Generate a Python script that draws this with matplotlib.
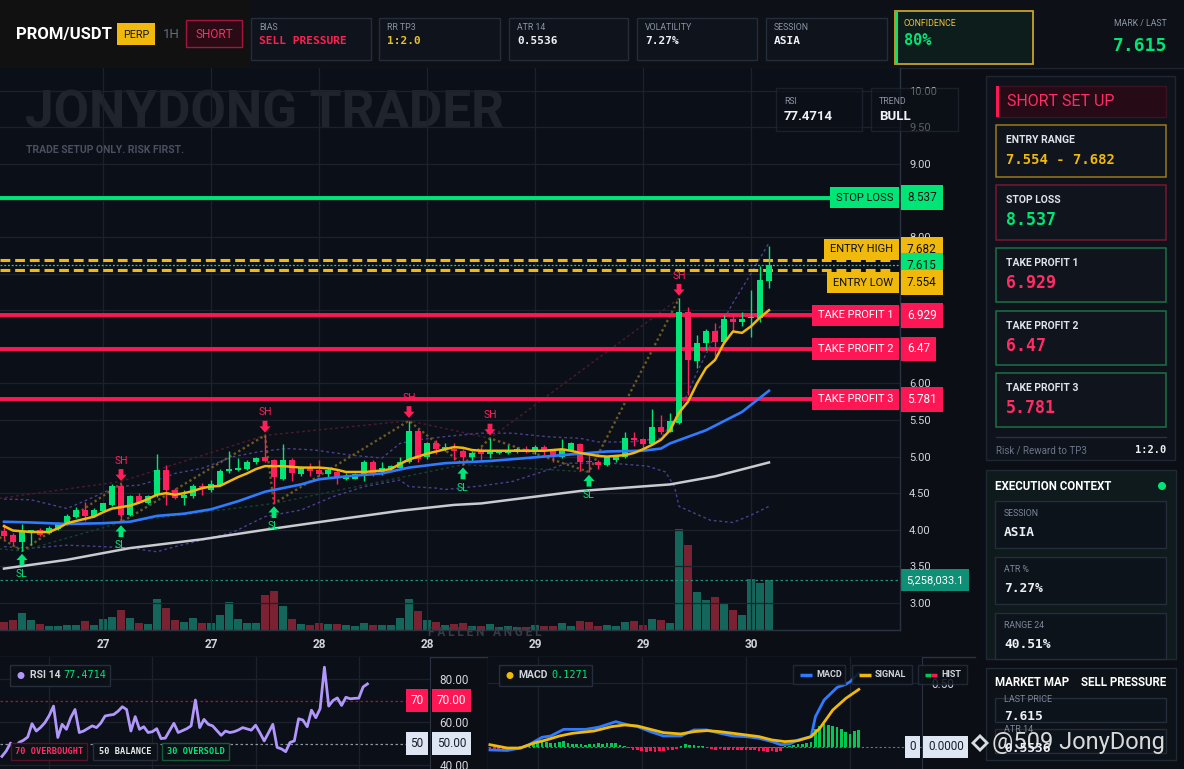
import numpy as np
import matplotlib
matplotlib.use("Agg")
import matplotlib.pyplot as plt
from matplotlib.patches import Rectangle, Circle
import matplotlib.transforms as mtrans

plt.rcParams['font.family'] = ['Roboto', 'DejaVu Sans']
MONO = 'DejaVu Sans Mono'

# ---------------- DATA ----------------
symbol = "PROM/USDT"
contract = "PERP"
timeframe = "1H"
side = "SHORT"
bias = "SELL PRESSURE"
rr_tp3 = "1:2.0"
atr14 = "0.5536"
volatility = "7.27%"
session = "ASIA"
confidence = "80%"
range24 = "40.51%"
rsi_last = "77.4714"
macd_last = "0.1271"
trend = "BULL"

stop_loss = 8.537
entry_high = 7.682
entry_low = 7.554
last_price = 7.615
tp1, tp2, tp3 = 6.929, 6.47, 5.781
last_volume = 5258033.1

date_labels = ["27", "27", "28", "28", "29", "29", "30"]
date_ticks = [11, 23, 35, 47, 59, 71, 83]
pane_ticks = [11, 35, 59, 83]
price_ticks = [3.0, 3.5, 4.0, 4.5, 5.0, 5.5, 6.0, 6.5, 7.0, 7.5, 8.0, 8.5, 9.0, 9.5, 10.0]
hidden_price_ticks = [6.5, 7.0, 7.5, 8.5]

opens = [3.99, 3.93, 3.84, 3.98, 4.00, 3.96, 4.01, 4.08, 4.18, 4.27,
         4.19, 4.26, 4.34, 4.60, 4.20, 4.46, 4.36, 4.47, 4.82, 4.55,
         4.44, 4.46, 4.60, 4.54, 4.61, 4.81, 4.82, 4.83, 4.92, 4.99,
         4.95, 4.70, 4.95, 4.76, 4.85, 4.82, 4.76, 4.79, 4.70, 4.70,
         4.73, 4.93, 4.79, 4.83, 4.85, 4.93, 5.35, 4.99, 5.19, 5.10,
         5.11, 5.08, 4.99, 5.07, 5.035, 5.045, 5.05, 5.07, 5.11, 5.07,
         5.135, 5.08, 4.99, 5.09, 5.17, 4.94, 4.93, 4.885, 4.96, 4.99,
         5.25, 5.235, 5.17, 5.41, 5.34, 5.46, 6.98, 6.31, 6.55, 6.71,
         6.57, 6.88, 6.84, 6.89, 6.89, 7.40]
highs = [4.08, 3.95, 4.08, 4.00, 4.03, 4.05, 4.10, 4.21, 4.31, 4.38,
         4.30, 4.37, 4.62, 4.63, 4.48, 4.50, 4.48, 5.03, 4.89, 4.57,
         4.54, 4.63, 4.64, 4.68, 4.83, 5.08, 4.98, 4.96, 5.00, 5.29,
         4.97, 5.17, 4.98, 4.87, 4.91, 4.96, 4.85, 4.82, 4.77, 4.78,
         4.96, 4.95, 4.92, 4.89, 4.99, 5.49, 5.38, 5.20, 5.22, 5.18,
         5.18, 5.11, 5.08, 5.135, 5.25, 5.08, 5.16, 5.13, 5.14, 5.16,
         5.16, 5.11, 5.24, 5.20, 5.18, 5.02, 4.96, 5.00, 5.02, 5.34,
         5.33, 5.25, 5.645, 5.57, 5.59, 7.16, 7.05, 6.66, 6.75, 6.83,
         6.94, 6.96, 6.97, 7.27, 7.60, 7.88]
lows = [3.87, 3.79, 3.71, 3.79, 3.91, 3.94, 4.00, 4.06, 4.16, 4.12,
        4.17, 4.25, 4.32, 4.10, 4.19, 4.36, 4.35, 4.45, 4.34, 4.42,
        4.34, 4.44, 4.48, 4.52, 4.60, 4.78, 4.80, 4.82, 4.90, 4.93,
        4.36, 4.68, 4.66, 4.74, 4.73, 4.73, 4.72, 4.63, 4.68, 4.69,
        4.66, 4.73, 4.75, 4.82, 4.84, 4.91, 4.93, 4.97, 5.04, 5.07,
        4.95, 4.89, 4.94, 4.94, 4.98, 5.03, 5.03, 5.05, 5.05, 5.035,
        5.02, 4.92, 4.98, 5.08, 4.81, 4.79, 4.83, 4.87, 4.93, 4.976,
        5.14, 5.09, 5.16, 5.31, 5.33, 5.44, 5.84, 6.21, 6.46, 6.37,
        6.55, 6.72, 6.78, 6.64, 6.84, 7.31]
closes = [3.91, 3.84, 3.97, 3.99, 3.93, 4.03, 4.08, 4.19, 4.27, 4.19,
          4.27, 4.36, 4.60, 4.20, 4.46, 4.38, 4.46, 4.82, 4.54, 4.44,
          4.47, 4.60, 4.58, 4.63, 4.81, 4.83, 4.85, 4.93, 4.98, 4.94,
          4.72, 4.95, 4.77, 4.85, 4.81, 4.76, 4.82, 4.71, 4.73, 4.76,
          4.93, 4.78, 4.84, 4.87, 4.93, 5.35, 4.97, 5.19, 5.10, 5.135,
          5.07, 4.99, 5.05, 5.035, 5.066, 5.06, 5.09, 5.11, 5.07, 5.135,
          5.07, 5.02, 5.10, 5.18, 4.92, 4.92, 4.885, 4.99, 5.008, 5.25,
          5.23, 5.17, 5.41, 5.34, 5.48, 6.98, 6.32, 6.55, 6.71, 6.57,
          6.88, 6.84, 6.88, 6.91, 7.41, 7.615]
volumes_m = [0.84, 1.05, 1.82, 1.05, 0.63, 0.42, 0.42, 0.53, 0.53, 0.95,
             0.53, 1.16, 1.37, 2.10, 1.26, 0.74, 0.63, 3.26, 2.32, 1.05,
             0.84, 1.26, 0.74, 0.74, 1.58, 2.95, 1.16, 0.74, 0.74, 3.68,
             4.10, 2.53, 1.16, 0.63, 0.53, 0.74, 0.63, 0.63, 0.53, 0.42,
             0.74, 0.53, 0.53, 0.53, 1.26, 3.26, 2.00, 1.05, 0.84, 0.53,
             0.63, 0.74, 0.42, 0.42, 0.63, 0.32, 0.42, 0.32, 0.32, 0.53,
             0.42, 0.42, 0.74, 0.42, 0.95, 0.84, 0.42, 0.53, 0.42, 0.84,
             0.95, 0.53, 1.16, 1.05, 0.74, 10.60, 8.95, 4.00, 3.16, 3.47,
             2.74, 2.10, 1.58, 5.33, 4.95, 5.258]

ema_fast = [4.05, 3.99, 3.98, 3.97, 3.97, 3.97, 4.02, 4.09, 4.12, 4.15,
            4.18, 4.24, 4.29, 4.31, 4.33, 4.37, 4.42, 4.48, 4.50, 4.48,
            4.50, 4.53, 4.57, 4.59, 4.60, 4.66, 4.72, 4.77, 4.83, 4.87,
            4.87, 4.87, 4.86, 4.85, 4.85, 4.85, 4.84, 4.82, 4.79, 4.79,
            4.79, 4.80, 4.81, 4.83, 4.90, 4.96, 5.00, 5.04, 5.07, 5.10,
            5.13, 5.12, 5.09, 5.08, 5.08, 5.08, 5.08, 5.08, 5.08, 5.08,
            5.08, 5.09, 5.10, 5.08, 5.05, 5.03, 5.01, 5.00, 5.01, 5.02,
            5.05, 5.10, 5.16, 5.23, 5.36, 5.60, 5.75, 6.00, 6.21, 6.32,
            6.55, 6.71, 6.69, 6.78, 6.90, 7.00]
ema_slow_idx = [0, 3, 7, 11, 14, 17, 20, 23, 26, 29, 33, 35, 38, 42, 45, 49, 54, 60, 64, 67, 71, 73, 74, 78, 82, 85]
ema_slow = [4.11, 4.10, 4.08, 4.09, 4.11, 4.19, 4.22, 4.28, 4.39, 4.52, 4.62, 4.69, 4.73, 4.77, 4.85, 4.91, 4.94,
            5.00, 5.04, 5.07, 5.08, 5.11, 5.18, 5.36, 5.61, 5.90]
ma_long_idx = [0, 7, 14, 22, 29, 37, 44, 50, 53, 64, 74, 79, 85]
ma_long = [3.47, 3.59, 3.75, 3.87, 4.00, 4.14, 4.26, 4.34, 4.36, 4.53, 4.62, 4.73, 4.92]
band_up_idx = [0, 3, 7, 10, 12.5, 15, 17, 19, 22, 25.5, 28.5, 31.5, 34.5, 38.5, 42, 44, 46, 49.5, 53, 56.5,
               60.5, 64, 66, 69.5, 73, 75, 77, 79, 81, 83, 85]
band_up = [4.42, 4.41, 4.29, 4.45, 4.59, 4.61, 4.68, 4.77, 4.84, 5.00, 5.07, 5.11, 5.09, 5.02, 4.98, 5.18, 5.23,
           5.28, 5.32, 5.32, 5.27, 5.25, 5.20, 5.20, 5.25, 5.60, 6.15, 6.65, 7.10, 7.50, 7.92]
band_lo_idx = [0, 3, 7, 11, 14, 17, 19, 22, 25.5, 29, 33, 36.5, 40, 44, 45, 48, 49, 53, 56.5, 60.5, 62.5,
               67.5, 71.5, 73.5, 74.5, 75, 78.5, 81, 83, 85]
band_lo = [3.77, 3.75, 3.79, 3.77, 3.75, 3.70, 3.77, 3.86, 3.97, 4.18, 4.27, 4.45, 4.59, 4.68, 4.59, 4.57, 4.55,
           4.60, 4.66, 4.82, 4.91, 4.91, 4.87, 4.79, 4.59, 4.32, 4.13, 4.10, 4.20, 4.32]
zigzag_idx = [-0.5, 2, 13, 13, 29, 30, 45, 51, 54, 65, 75]
zigzag = [3.90, 3.71, 4.63, 4.10, 5.29, 4.36, 5.49, 4.89, 5.25, 4.79, 7.16]
sh_line_idx = [-0.5, 13, 29, 45, 54, 75]
sh_line = [4.43, 4.66, 5.29, 5.49, 5.25, 7.16]
sl_line_idx = [-0.5, 2, 13, 30, 51, 65]
sl_line = [3.74, 3.71, 4.10, 4.36, 4.89, 4.79]
swing_high_idx = [13, 29, 45, 54, 75]
swing_low_idx = [2, 13, 30, 51, 65]

rsi = [44.0, 46.5, 50.2, 48.2, 50.5, 51.5, 53.0, 59.2, 55.8, 57.5,
       59.7, 63.0, 67.4, 52.8, 58.9, 56.6, 62.0, 65.8, 55.1, 55.8,
       57.0, 58.2, 57.4, 59.5, 62.8, 63.2, 63.5, 65.0, 67.1, 65.8,
       55.8, 62.5, 56.6, 57.8, 55.1, 55.5, 56.9, 52.3, 52.5, 56.0,
       59.4, 55.1, 56.0, 56.9, 58.2, 70.2, 57.4, 61.2, 58.9, 58.2,
       56.0, 53.8, 55.8, 55.1, 55.5, 56.3, 57.4, 56.8, 56.2, 58.5,
       55.0, 51.2, 55.0, 58.9, 48.2, 47.5, 46.2, 50.5, 51.2, 61.5,
       60.9, 57.8, 65.5, 62.0, 66.2, 85.5, 67.4, 70.0, 71.2, 67.7,
       71.5, 70.8, 71.0, 71.1, 76.3, 77.7]
macd_idx = [0, 4, 7, 9, 12, 14, 17, 22, 25, 29, 31, 34, 37, 40, 44, 47, 50, 53, 56, 59, 62, 65, 67, 69, 71, 74,
            75, 77, 80, 82, 83, 85]
macd = [-0.023, -0.027, -0.008, 0.018, 0.076, 0.086, 0.138, 0.138, 0.154, 0.198, 0.180, 0.159, 0.120, 0.086,
        0.086, 0.133, 0.133, 0.107, 0.086, 0.081, 0.068, 0.042, 0.018, 0.023, 0.055, 0.081, 0.237, 0.367, 0.466,
        0.490, 0.510, 0.576]
signal_idx = [0, 4, 7, 10, 13, 16, 19, 24, 28, 31, 34, 37, 40, 44, 47, 50, 53, 56, 59, 62, 65, 68, 71, 74, 76,
              79, 82, 85]
signal = [0.018, -0.008, -0.008, 0.029, 0.055, 0.086, 0.107, 0.125, 0.159, 0.172, 0.164, 0.138, 0.112, 0.102,
          0.120, 0.128, 0.120, 0.107, 0.094, 0.081, 0.055, 0.042, 0.050, 0.081, 0.146, 0.289, 0.380, 0.450]
hist = [-0.03, -0.03, -0.025, -0.02, -0.015, -0.01, -0.005,
        0.01, 0.015, 0.02, 0.03, 0.04, 0.05,
        0.04, 0.035, 0.03, 0.04, 0.045, 0.03, 0.025, 0.02, 0.02, 0.015, 0.02, 0.025, 0.03, 0.025, 0.03, 0.035,
        0.03, 0.015, 0.01,
        -0.01, -0.02, -0.025, -0.03, -0.04, -0.035, -0.04, -0.03, -0.03, -0.025, -0.02, -0.015,
        0.01, 0.02, 0.015, 0.015, 0.01, 0.005,
        -0.01, -0.015, -0.02, -0.015, -0.02, -0.02, -0.025, -0.02, -0.02, -0.025, -0.02, -0.025, -0.03, -0.03,
        -0.04, -0.035, -0.04, -0.03,
        0.005, 0.01, 0.015, 0.02, 0.025, 0.03, 0.04,
        0.14, 0.165, 0.18, 0.17, 0.165, 0.155, 0.14, 0.12, 0.105, 0.125, 0.13]

# ---------------- STYLE ----------------
BG = '#0b0e15'
CHART_BG = '#0b0f17'
HEADER_BG = '#0d1016'
GRID = '#1c212c'
SPINE = '#2b3240'
TXT = '#d1d4dc'
GREEN = '#00e676'
RED = '#ff1f5a'
TPRED = '#ff1654'
YELLOW = '#f0b90b'
BLUE = '#2f7bff'
PURPLE = '#b197fc'
CARD = '#0f131b'
CARD_EC = '#252c3a'

W, H = 1184, 769
fig = plt.figure(figsize=(W / 100, H / 100), dpi=100)
fig.patch.set_facecolor(BG)


def rect(x0, y0, x1, y1):
    return [x0 / W, 1 - y1 / H, (x1 - x0) / W, (y1 - y0) / H]


def pixel_axes(z):
    a = fig.add_axes([0, 0, 1, 1], zorder=z)
    a.set_xlim(0, W)
    a.set_ylim(H, 0)
    a.axis('off')
    return a


def box(a, x0, y0, x1, y1, fc, ec='none', lw=1.0, alpha=1.0, z=1):
    a.add_patch(Rectangle((x0, y0), x1 - x0, y1 - y0, fc=fc, ec=ec, lw=lw, alpha=alpha, zorder=z))


bg = pixel_axes(0)
fg = pixel_axes(6)

# ---------------- HEADER ----------------
box(bg, 0, 0, W, 67, HEADER_BG)
box(bg, 0, 0, 250, 67, '#14120f', alpha=0.6)
box(bg, 0, 67, W, H, BG)
bg.plot([0, W], [67.5, 67.5], color='#1e2430', lw=1)
bg.text(16, 34, symbol, color='white', fontsize=12, fontweight='bold', va='center', ha='left')
box(bg, 117, 23, 155, 45, YELLOW)
bg.text(136, 34.5, contract, color='#1a1a1a', fontsize=7.8, va='center', ha='center')
bg.text(171, 34, timeframe, color='#5f6c80', fontsize=9.5, va='center', ha='center')
box(bg, 186, 20, 242, 47, '#2a0a14', '#a3163e', 1)
bg.text(214, 34, side, color='#ff2d63', fontsize=8.5, va='center', ha='center')

cards = [("BIAS", bias, '#ff2050', 251, 371),
         ("RR TP3", rr_tp3, '#e8c22a', 379, 500),
         ("ATR 14", atr14, '#eef1f6', 509, 628),
         ("VOLATILITY", volatility, '#eef1f6', 637, 757),
         ("SESSION", session, '#eef1f6', 766, 887)]
for lab, val, col, x0, x1 in cards:
    box(bg, x0, 18, x1, 60, CARD, CARD_EC, 1)
    bg.text(x0 + 8, 27, lab, color='#8a94a8', fontsize=6.3, va='center', ha='left')
    bg.text(x0 + 8, 41.5, val, color=col, fontsize=8, fontweight='bold', family=MONO, va='center', ha='left')

box(bg, 895, 11, 1033, 64, '#0d1d1b', '#c9a227', 1.3)
box(bg, 895, 11, 898, 64, GREEN)
bg.text(904, 23, "CONFIDENCE", color='#f0c040', fontsize=6.3, va='center', ha='left')
bg.text(904, 40.5, confidence, color=GREEN, fontsize=11, fontweight='bold', family=MONO, va='center', ha='left')
bg.text(1167, 24, "MARK / LAST", color='#8a94a8', fontsize=6.3, va='center', ha='right')
bg.text(1167, 46, f"{last_price:.3f}", color=GREEN, fontsize=13, fontweight='bold', family=MONO,
        va='center', ha='right')

# ---------------- MAIN CHART ----------------
n = len(closes)
idx = np.arange(n)
o = np.array(opens); h = np.array(highs); l = np.array(lows); c = np.array(closes)
up = c >= o
ccol = np.where(up, GREEN, RED)
vcol = np.where(up, '#15665a', '#7a2231')
XL = (-0.444, 99.556)

ax_vol = fig.add_axes(rect(0, 68, 900, 630), zorder=1)
ax = fig.add_axes(rect(0, 68, 900, 630), zorder=2, sharex=ax_vol)
ax.patch.set_alpha(0)
ax_vol.set_facecolor(CHART_BG)
for s in ax_vol.spines.values():
    s.set_visible(False)
ax_vol.tick_params(left=False, bottom=False, right=False, labelleft=False, labelbottom=False)
ax_vol.bar(idx, volumes_m, width=0.88, color=vcol, zorder=1)
last_vol_m = last_volume / 1e6
ax_vol.set_ylim(0, last_vol_m * 562 / 50)
ax_vol.axhline(last_vol_m, color='#1f8f77', lw=0.9, ls=(0, (2, 2)), zorder=2)
vblend = mtrans.blended_transform_factory(ax_vol.transAxes, ax_vol.transData)
ax_vol.text(906 / 900, last_vol_m, f"{last_volume:,.1f}", transform=vblend, color='white', fontsize=8,
            va='center', ha='left', zorder=5,
            bbox=dict(boxstyle='square,pad=0.5', fc='#0f8f76', ec='none'))
# watermark
ax_vol.text(25 / W, 1 - 113 / H, "JONYDONG TRADER", transform=fig.transFigure, color='#20242d',
            fontsize=37, fontweight='bold', va='center', ha='left', zorder=0)
ax_vol.text(26 / W, 1 - 150 / H, "TRADE SETUP ONLY. RISK FIRST.", transform=fig.transFigure,
            color='#4a5060', fontsize=7.5, fontweight='bold', va='center', ha='left', zorder=0)

ax.set_xlim(*XL)
ax.set_ylim(3 - 27 / 73.2, 3 + 535 / 73.2)
ax.yaxis.tick_right()
ax.set_yticks(price_ticks)
ax.set_yticklabels(["" if t in hidden_price_ticks else f"{t:.2f}" for t in price_ticks])
ax.set_xticks(date_ticks)
ax.set_xticklabels(date_labels, fontweight='bold')
ax.tick_params(axis='both', length=0, colors=TXT, labelsize=8)
ax.tick_params(axis='x', pad=5.5, labelsize=8.5)
ax.tick_params(axis='y', pad=6.5)
ax.grid(True, color=GRID, lw=0.9)
ax.set_axisbelow(True)
for k in ('top', 'left'):
    ax.spines[k].set_visible(False)
for k in ('right', 'bottom'):
    ax.spines[k].set_color(SPINE)
    ax.spines[k].set_linewidth(1)

# indicator lines
ax.plot(band_up_idx, band_up, color='#4a3f90', lw=1, ls=(0, (2, 2)), zorder=2.2)
ax.plot(band_lo_idx, band_lo, color='#4a3f90', lw=1, ls=(0, (2, 2)), zorder=2.2)
ax.plot(sh_line_idx, sh_line, color='#4e1a2e', lw=1, ls=(0, (2, 2)), zorder=2.2)
ax.plot(sl_line_idx, sl_line, color='#15402e', lw=1, ls=(0, (2, 2)), zorder=2.2)
ax.plot(zigzag_idx, zigzag, color='#6b5a22', lw=1.7, ls=(0, (1, 1.2)), zorder=2.3)
ax.plot(ma_long_idx, ma_long, color='#c9cbd1', lw=1.8, zorder=2.6)

# level lines
ax.axhline(stop_loss, xmin=0, xmax=835 / 900, color=GREEN, lw=2.8, zorder=2.8)
for lv in (entry_high, entry_low):
    ax.axhline(lv, xmin=0, xmax=893 / 900, color=YELLOW, lw=2.2, ls=(0, (3.2, 1.6)), zorder=2.8)
ax.axhline(last_price, color=GREEN, lw=0.9, ls=(0, (1.5, 1.5)), zorder=2.8)
for lv in (tp1, tp2, tp3):
    ax.axhline(lv, xmin=0, xmax=815 / 900, color=TPRED, lw=2.8, zorder=2.8)

# candles
ax.vlines(idx, l, h, colors=ccol, lw=1, zorder=3)
ax.bar(idx, np.maximum(np.abs(c - o), 0.012), bottom=np.minimum(o, c), width=0.72, color=ccol, zorder=3.1)
ax.plot(ema_slow_idx, ema_slow, color=BLUE, lw=1.9, zorder=3.4)
ax.plot(idx, ema_fast, color=YELLOW, lw=1.8, zorder=3.5)

# swing markers
arrow = 'simple,head_length=0.45,head_width=0.8,tail_width=0.35'
for i in swing_high_idx:
    ax.annotate('', xy=(i, highs[i]), xytext=(0, 10.5), textcoords='offset points',
                arrowprops=dict(arrowstyle=arrow, fc=RED, ec='none', shrinkA=0, shrinkB=2), zorder=6)
    ax.annotate('SH', xy=(i, highs[i]), xytext=(0, 16.5), textcoords='offset points', ha='center',
                va='center', color=RED, fontsize=7.5, zorder=6)
for i in swing_low_idx:
    ax.annotate('', xy=(i, lows[i]), xytext=(0, -10.5), textcoords='offset points',
                arrowprops=dict(arrowstyle=arrow, fc=GREEN, ec='none', shrinkA=0, shrinkB=2), zorder=6)
    ax.annotate('SL', xy=(i, lows[i]), xytext=(0, -16.5), textcoords='offset points', ha='center',
                va='center', color=GREEN, fontsize=7.5, zorder=6)

# level tags
blend = mtrans.blended_transform_factory(ax.transAxes, ax.transData)


def tag(level, name, fc, tc, dy=0):
    tr = mtrans.offset_copy(blend, fig=fig, x=0, y=dy, units='dots')
    if name:
        ax.text(893 / 900, level, name, transform=tr, color=tc, fontsize=8, ha='right', va='center', zorder=7,
                bbox=dict(boxstyle='square,pad=0.5', fc=fc, ec='none'))
    ax.text(907 / 900, level, f"{level:g}", transform=tr, color=tc, fontsize=8.5, ha='left', va='center',
            zorder=7, bbox=dict(boxstyle='square,pad=0.5', fc=fc, ec='none'))


tag(stop_loss, "STOP LOSS", GREEN, '#0b0f17')
tag(entry_high, "ENTRY HIGH", YELLOW, '#0b0f17', dy=11)
tag(last_price, "", GREEN, '#0b0f17')
tag(entry_low, "ENTRY LOW", YELLOW, '#0b0f17', dy=-13)
tag(tp1, "TAKE PROFIT 1", TPRED, 'white')
tag(tp2, "TAKE PROFIT 2", TPRED, 'white')
tag(tp3, "TAKE PROFIT 3", TPRED, 'white')

# RSI / TREND info boxes over chart
for (x0, x1, lab, val) in [(776, 862, "RSI", rsi_last), (871, 958, "TREND", trend)]:
    box(fg, x0, 88, x1, 131, '#0c1017', '#262d3b', 1, alpha=0.6)
    fg.text(x0 + 8, 101, lab, color='#8a94a8', fontsize=6.3, va='center', ha='left')
    fg.text(x0 + 8, 117, val, color='#eef1f6', fontsize=9.5, fontweight='bold', va='center', ha='left')

fg.text(428, 632, "F A L L E N   A N G E L", color='#3a3f4a', fontsize=8.5, fontweight='bold',
        va='center', ha='left', alpha=0.9)

# separators bottom
bg.plot([0, 975], [656.5, 656.5], color=SPINE, lw=1, zorder=3)
bg.plot([487.5, 487.5], [657, H], color=SPINE, lw=1, zorder=3)

# ---------------- RSI PANE ----------------
ax_rsi = fig.add_axes(rect(0, 657, 430, 769), zorder=2)
ax_rsi.set_facecolor(CHART_BG)
ax_rsi.set_xlim(*XL)
ax_rsi.set_ylim(40 - 4 / 2.15, 80 + 22 / 2.15)
ax_rsi.yaxis.tick_right()
ax_rsi.set_yticks([40, 60, 80])
ax_rsi.set_yticklabels(["40.00", "60.00", "80.00"])
ax_rsi.set_xticks(pane_ticks)
ax_rsi.tick_params(axis='both', length=0, colors=TXT, labelsize=8.5, pad=7, labelbottom=False)
ax_rsi.grid(True, color=GRID, lw=0.9)
ax_rsi.set_axisbelow(True)
for k in ('top', 'left', 'bottom'):
    ax_rsi.spines[k].set_visible(False)
ax_rsi.spines['right'].set_color(SPINE)
ax_rsi.axhline(70, color='#a3163e', lw=0.9, ls=(0, (2, 2)))
ax_rsi.axhline(50, color='#8f96a3', lw=0.9, ls=(0, (2, 2)))
ax_rsi.plot(idx, rsi, color=PURPLE, lw=2, zorder=3, solid_joinstyle='round')
rblend = mtrans.blended_transform_factory(ax_rsi.transAxes, ax_rsi.transData)
for lv, fc, tc in [(70, TPRED, 'white'), (50, '#dde6f2', '#1a1f2a')]:
    ax_rsi.text(417 / 430, lv, f"{lv}", transform=rblend, color=tc, fontsize=8.5, ha='center', va='center',
                bbox=dict(boxstyle='square,pad=0.4', fc=fc, ec='none'), zorder=6)
    ax_rsi.text(437 / 430, lv, f"{lv:.2f}", transform=rblend, color=tc, fontsize=8.5, ha='left',
                va='center', bbox=dict(boxstyle='square,pad=0.4', fc=fc, ec='none'), zorder=6)

box(fg, 10, 665, 110, 686, '#0c1017', '#262d3b', 1)
fg.add_patch(Circle((21, 675.5), 3.5, fc=PURPLE, ec='none'))
fg.text(30, 675.5, "RSI 14", color=TXT, fontsize=7.5, fontweight='bold', va='center', ha='left')
fg.text(63, 675.5, rsi_last, color=GREEN, fontsize=7.3, family=MONO, va='center', ha='left')
for (x0, x1, txt, col, ec) in [(11, 87, "70 OVERBOUGHT", '#ff2d63', '#5a1025'),
                               (93, 157, "50 BALANCE", '#e8ebf0', '#262d3b'),
                               (162, 229, "30 OVERSOLD", GREEN, '#145a37')]:
    box(fg, x0, 743, x1, 760, '#0c1017', ec, 1)
    fg.text((x0 + x1) / 2, 751.5, txt, color=col, fontsize=6.2, fontweight='bold', family=MONO,
            va='center', ha='center')

# ---------------- MACD PANE ----------------
ax_m = fig.add_axes(rect(488, 657, 922, 769), zorder=2)
ax_m.set_facecolor(CHART_BG)
ax_m.set_xlim(*XL)
ax_m.set_ylim(-22 / 128, 90 / 128)
ax_m.yaxis.tick_right()
ax_m.set_yticks([0.5])
ax_m.set_yticklabels(["0.50"])
ax_m.set_xticks(pane_ticks)
ax_m.tick_params(axis='both', length=0, colors=TXT, labelsize=8.5, pad=7, labelbottom=False)
ax_m.grid(True, color=GRID, lw=0.9)
ax_m.set_axisbelow(True)
for k in ('top', 'left', 'bottom'):
    ax_m.spines[k].set_visible(False)
ax_m.spines['right'].set_color(SPINE)
ax_m.axhline(0, color='#6b7280', lw=0.8, ls=(0, (2, 2)))
hcol = np.where(np.array(hist) >= 0, '#00c853', TPRED)
ax_m.bar(idx, hist, width=0.62, color=hcol, zorder=2)
ax_m.plot(macd_idx, macd, color=BLUE, lw=2, zorder=3)
ax_m.plot(signal_idx, signal, color=YELLOW, lw=2, zorder=3.1)
mblend = mtrans.blended_transform_factory(ax_m.transAxes, ax_m.transData)
ax_m.text((912.5 - 488) / 434, 0, "0", transform=mblend, color='#1a1f2a', fontsize=8.5, ha='center',
          va='center', bbox=dict(boxstyle='square,pad=0.4', fc='#dde6f2', ec='none'), zorder=6)
ax_m.text((928 - 488) / 434, 0, "0.0000", transform=mblend, color='#1a1f2a', fontsize=8.5, ha='left',
          va='center', bbox=dict(boxstyle='square,pad=0.4', fc='#dde6f2', ec='none'), zorder=6)

box(fg, 499, 665, 592, 686, '#0c1017', '#262d3b', 1)
fg.add_patch(Circle((510, 675.5), 3.5, fc=YELLOW, ec='none'))
fg.text(518, 675.5, "MACD", color=TXT, fontsize=7.5, fontweight='bold', va='center', ha='left')
fg.text(551, 675.5, macd_last, color=GREEN, fontsize=7.3, family=MONO, va='center', ha='left')
for (x0, x1, txt, cols) in [(793, 845, "MACD", [BLUE]), (852, 912, "SIGNAL", [YELLOW]),
                            (918, 967, "HIST", ['#00c853', TPRED])]:
    box(fg, x0, 665, x1, 684, '#0c1017', '#262d3b', 1, alpha=0.85)
    seg = np.linspace(x0 + 7, x0 + 19, len(cols) + 1)
    for k, cc in enumerate(cols):
        fg.plot([seg[k], seg[k + 1]], [674.5, 674.5], color=cc, lw=2.5, solid_capstyle='butt')
    fg.text(x0 + 23, 674.5, txt, color=TXT, fontsize=6.5, fontweight='bold', va='center', ha='left')

# ---------------- RIGHT PANEL ----------------
box(bg, 986, 76, 1175, 460, '#0e131b', '#1f2633', 1)
box(bg, 996, 86, 1166, 117, '#260b17', '#3a1422', 1)
box(bg, 996, 86, 999, 117, TPRED)
bg.text(1007, 101.5, "SHORT SET UP", color='#ff2d63', fontsize=11.5, va='center', ha='left')
panel_cards = [("ENTRY RANGE", f"{entry_low:.3f} - {entry_high:.3f}", YELLOW, '#9c7a1a', 125, 177, 10),
               ("STOP LOSS", f"{stop_loss:g}", GREEN, '#7a1630', 185, 240, 12),
               ("TAKE PROFIT 1", f"{tp1:g}", '#ff2d63', '#1d7046', 248, 302, 12),
               ("TAKE PROFIT 2", f"{tp2:g}", '#ff2d63', '#1d7046', 311, 365, 12),
               ("TAKE PROFIT 3", f"{tp3:g}", '#ff2d63', '#1d7046', 373, 427, 12)]
for lab, val, col, ec, y0, y1, fs in panel_cards:
    box(bg, 996, y0, 1166, y1, '#10141c', ec, 1.1)
    bg.text(1006, y0 + 15, lab, color='#dfe3ea', fontsize=7.5, fontweight='bold', va='center', ha='left')
    bg.text(1006, y0 + 35, val, color=col, fontsize=fs, fontweight='bold', family=MONO, va='center',
            ha='left')
bg.plot([996, 1166], [436.5, 436.5], color='#2a3140', lw=1)
bg.text(996, 450, "Risk / Reward to TP3", color='#6c768a', fontsize=7, va='center', ha='left')
bg.text(1166, 450, rr_tp3, color='#eef1f6', fontsize=7.5, fontweight='bold', family=MONO, va='center',
        ha='right')

box(bg, 986, 470, 1176, 659, '#0e1a1c', '#1f2a36', 1)
bg.text(995, 486, "EXECUTION CONTEXT", color='white', fontsize=8.3, fontweight='bold', va='center', ha='left')
bg.add_patch(Circle((1162, 486), 4, fc=GREEN, ec='none'))
for lab, val, y0, y1 in [("SESSION", session, 501, 548), ("ATR %", volatility, 557, 604),
                         ("RANGE 24", range24, 613, 659)]:
    box(bg, 995, y0, 1166, y1, '#0d131b', '#252d3a', 1)
    bg.text(1004, y0 + 12, lab, color='#7d8799', fontsize=6.3, va='center', ha='left')
    bg.text(1004, y0 + 31, val, color='#eef1f6', fontsize=9.3, fontweight='bold', family=MONO, va='center',
            ha='left')

box(bg, 986, 668, 1176, 760, '#0d1118', '#1f2a36', 1)
bg.text(995, 683, "MARKET MAP", color='white', fontsize=8.3, fontweight='bold', va='center', ha='left')
bg.text(1166, 683, bias, color='white', fontsize=8.3, fontweight='bold', va='center', ha='right')
for lab, val, y0, y1 in [("LAST PRICE", f"{last_price:.3f}", 698, 722), ("ATR 14", atr14, 729, 753)]:
    box(bg, 995, y0, 1166, y1, '#0d131b', '#252d3a', 1)
    bg.text(1004, y0 + 1, lab, color='#7d8799', fontsize=6.5, va='center', ha='left')
    bg.text(1004, y0 + 19, val, color='#eef1f6', fontsize=9.3, fontweight='bold', family=MONO, va='center',
            ha='left')

# watermark bottom right
fg.text(992, 743, "@509 JonyDong", color='#f0f0f0', fontsize=17, va='center', ha='left', alpha=0.9)
fg.add_patch(Rectangle((975, 738), 10, 10, angle=45, rotation_point='center', fc='none', ec='#d8dce3', lw=2))

fig.savefig('out.png', dpi=100, facecolor=fig.get_facecolor())
